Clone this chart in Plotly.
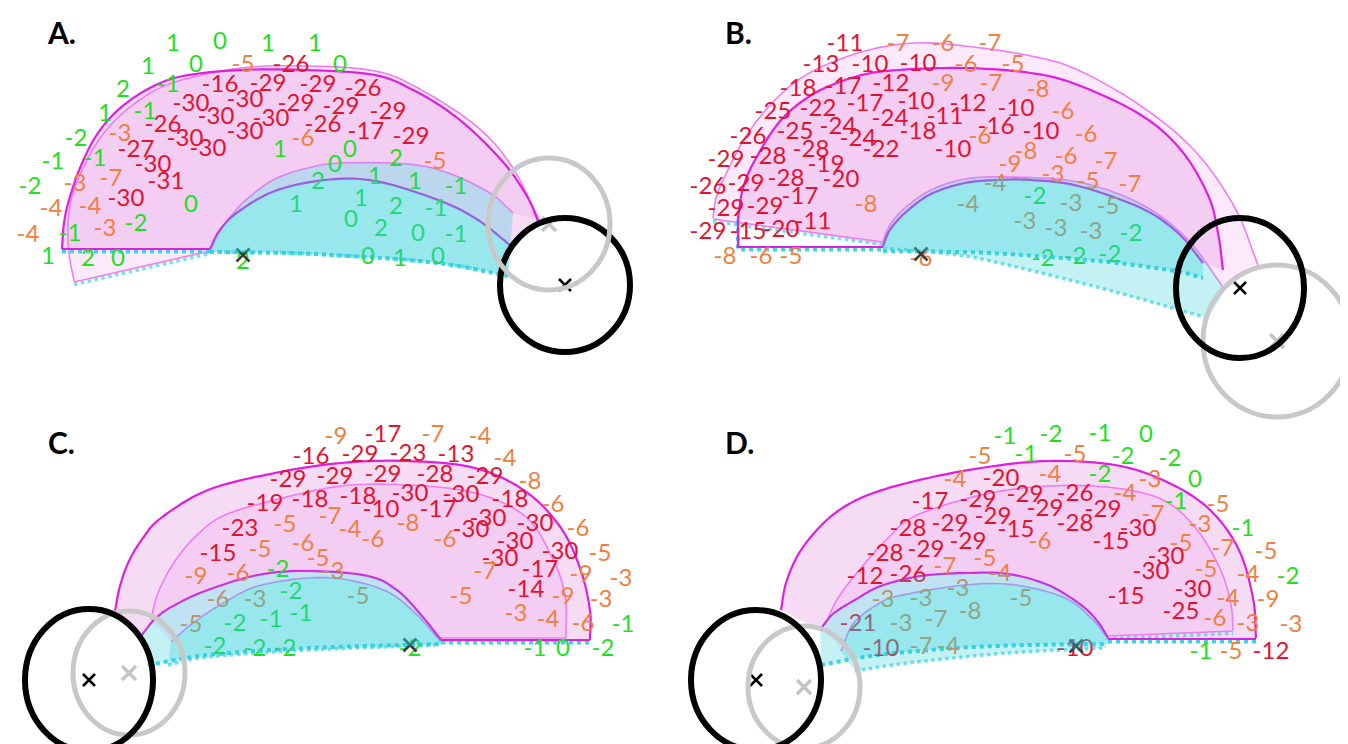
import numpy as np
import plotly.graph_objects as go

# ---------------- data: values printed on each map and where they sit ----------------
A_vals = [1, 0, 1, 1, 1, 0, 0, 2, -1, 1, -1, -2, -1, -1, -2, -1, -2, 0, 1, 0, 2, 0, 2, 1, 1, -1,
          1, 1, 2, -1, 0, 2, 0, -1, 0, 1, 0, 1, 2, 0, 2,
          -5, -3, -6, -5, -3, -7, -4, -4, -3, -4,
          -26, -16, -29, -29, -26, -30, -30, -29, -29, -29, -26, -30, -30, -30, -26, -17, -29,
          -30, -30, -27, -30, -31, -30]
A_x = [165, 212, 260, 307, 140, 188, 332, 115, 160, 97, 137, 68, 45, 87, 22, 62, 128, 183, 272, 342,
       388, 327, 310, 367, 407, 448, 288, 353, 388, 428, 343, 373, 410, 448, 360, 392, 430, 40, 80, 110, 235,
       235, 112, 295, 427, 67, 103, 43, 82, 97, 20,
       283, 212, 260, 310, 355, 183, 237, 288, 333, 380, 155, 208, 263, 237, 315, 358, 403,
       177, 200, 128, 145, 158, 118]
A_y = [37, 35, 37, 37, 60, 58, 58, 83, 78, 107, 105, 132, 155, 152, 180, 227, 217, 198, 143, 143,
       152, 158, 175, 170, 175, 180, 198, 192, 200, 202, 213, 222, 227, 228, 250, 252, 250, 250, 252, 252, 255,
       58, 127, 132, 155, 177, 172, 202, 200, 222, 228,
       58, 78, 77, 78, 82, 97, 93, 97, 100, 105, 118, 110, 112, 125, 118, 125, 130,
       132, 142, 143, 158, 175, 192]

B_vals = [-11, -13, -10, -10, -18, -17, -12, -25, -22, -17, -10, -12, -10, -26, -25, -24, -24, -11, -16, -10,
          -24, -18, -22, -10, -29, -28, -28, -19, -26, -29, -28, -20, -29, -29, -17, -29, -15, -20, -11,
          -7, -6, -7, -6, -5, -9, -7, -8, -6, -6, -6, -8, -6, -9, -7, -3, -5, -7, -4, -8, -4,
          -3, -3, -3, -5, -3, -8, -6, -5, -6,
          -2, -2, -2, -2, -2]
B_x = [837, 813, 862, 910, 790, 835, 883, 765, 810, 857, 908, 960, 1008, 740, 787, 830, 882, 937, 988, 1033,
       850, 910, 873, 945, 718, 760, 803, 818, 700, 738, 778, 833, 718, 757, 792, 700, 740, 773, 805,
       890, 935, 982, 958, 1005, 935, 983, 1030, 1055, 972, 1078, 1018, 1058, 1002, 1098, 1045, 1080, 1122, 987, 858, 960,
       1017, 1048, 1063, 1100, 1083, 717, 753, 783, 913,
       1027, 1123, 1035, 1067, 1102]
B_y = [37, 58, 58, 57, 82, 80, 77, 105, 102, 97, 95, 97, 102, 130, 125, 120, 112, 110, 120, 125,
       132, 125, 143, 143, 153, 150, 143, 158, 180, 177, 172, 173, 202, 200, 190, 225, 225, 223, 215,
       37, 37, 37, 58, 58, 77, 77, 83, 105, 130, 128, 145, 150, 158, 155, 168, 175, 178, 177, 198, 198,
       215, 222, 197, 200, 225, 250, 250, 250, 252,
       190, 227, 252, 250, 248]

C_vals = [-17, -16, -29, -23, -13, -29, -29, -29, -28, -29, -19, -18, -18, -30, -30, -18, -10, -17,
          -30, -30, -30, -30, -30, -30, -17, -14, -23, -15,
          -9, -7, -4, -4, -8, -6, -6, -5, -9, -3, -3, -6, -4, -3, -9, -5, -7, -6, -8, -6, -4, -7,
          -5, -6, -5, -5, -3, -6, -9, -5, -3, -6, -5,
          -2, -2, -1, -1, -2, -2, -2, -2, -2, -1, 0, -2, -1]
C_x = [375, 303, 352, 400, 448, 280, 327, 375, 427, 477, 257, 302, 350, 402, 453, 502, 373, 430,
       480, 527, 463, 507, 552, 492, 532, 518, 232, 210,
       328, 425, 472, 497, 522, 545, 570, 592, 573, 613, 593, 575, 540, 508, 555, 453, 477, 437, 400, 365, 342, 322,
       277, 295, 252, 310, 325, 230, 188, 350, 247, 210, 183,
       270, 283, 293, 263, 227, 207, 247, 277, 402, 527, 555, 595, 615]
C_y = [428, 450, 448, 447, 448, 473, 470, 468, 468, 470, 497, 493, 490, 487, 488, 493, 503, 503,
       512, 517, 523, 535, 545, 552, 563, 583, 522, 547,
       430, 428, 430, 452, 475, 498, 522, 547, 568, 572, 593, 617, 613, 607, 590, 590, 565, 533, 517, 533, 523, 510,
       518, 537, 543, 552, 565, 567, 570, 590, 593, 593, 618,
       563, 585, 607, 613, 617, 640, 642, 642, 642, 642, 642, 642, 618]

D_vals = [-1, -2, -1, 0, -1, -2, -2, -2, 0, -1, -1, -2, -1,
          -5, -5, -4, -4, -3, -4, -5, -7, -3, -6, -5, -7, -5, -5, -7, -4, -5, -4, -4, -9,
          -6, -3, -3, -5, -3, -3, -3, -5, -3, -7, -8, -7, -4,
          -20, -17, -29, -29, -26, -28, -29, -29, -29, -28, -29, -15, -30, -15, -28, -29, -29,
          -30, -30, -12, -26, -30, -15, -25, -21, -10, -10, -12]
D_x = [997, 1043, 1092, 1138, 1018, 1115, 1162, 1092, 1187, 1168, 1235, 1280, 1193,
       972, 1067, 947, 1042, 1142, 1117, 1210, 1145, 1192, 1032, 1173, 1215, 1258, 977, 937, 992, 1198, 1240, 1220, 1260,
       1207, 1240, 1283, 1223, 875, 913, 950, 1013, 893, 928, 962, 913, 940,
       993, 922, 970, 1017, 1067, 900, 942, 985, 1037, 1067, 1095, 1008, 1130, 1103, 877, 918, 960,
       1158, 1143, 857, 900, 1185, 1118, 1173, 850, 873, 1067, 1263]
D_y = [430, 428, 427, 428, 448, 450, 452, 468, 473, 495, 522, 570, 645,
       450, 448, 473, 468, 473, 487, 498, 508, 518, 535, 537, 542, 545, 552, 560, 567, 563, 568, 592, 593,
       612, 617, 618, 645, 593, 592, 582, 592, 617, 613, 605, 640, 640,
       472, 495, 493, 488, 487, 522, 517, 510, 502, 517, 503, 523, 522, 535, 547, 543, 535,
       550, 565, 570, 568, 583, 590, 605, 617, 642, 642, 645]

panel_names = ["A.", "B.", "C.", "D."]

# circles (centre / radii) and centre crosses
black_cx = [557, 1232, 81, 748]
black_cy = [277, 280, 672, 672]
black_rx = [65, 64, 64, 65]
black_ry = [67, 70, 71, 70]
gray_cx = [541, 1269, 121, 796]
gray_cy = [216, 333, 665, 679]
gray_rx = [61, 74, 56, 56]
gray_ry = [66, 76, 62, 61]
fix_x = [235, 913, 402, 1068]
fix_y = [247, 246, 637, 638]

# ---------------- geometry of the drawn hemifield shapes (pixel grid) ----------------
GEOM = {
    "A": dict(
        dark=dict(outer=[(54, 241), (56, 215), (61, 192), (72, 160), (88, 128), (110, 102), (140, 81), (175, 68),
                         (233, 62), (300, 62), (367, 67), (405, 82), (440, 103), (470, 128), (500, 160), (520, 190), (530, 213)],
                  inner=[(202, 241), (212, 222), (230, 204), (267, 183), (317, 172), (367, 173), (430, 192), (470, 212), (503, 238)],
                  base=[(202, 244), (280, 245), (340, 248), (400, 252), (450, 258), (500, 268)],
                  edge=[(54, 241), (202, 241)]),
        light=dict(outer=[(66, 273), (61, 245), (60, 215), (65, 185), (80, 150), (100, 120), (130, 93), (167, 74),
                          (233, 60), (300, 58), (367, 63), (410, 80), (467, 117), (503, 157), (532, 213)],
                   inner=[(202, 243), (210, 226), (223, 208), (240, 190), (267, 171), (300, 160), (333, 155), (400, 156),
                          (440, 165), (482, 185), (505, 205)],
                   base=[(202, 244), (280, 245), (340, 248), (400, 252), (450, 258), (500, 268)],
                   edge=[(66, 274), (202, 243)])),
    "B": dict(
        dark=dict(outer=[(730, 210), (735, 180), (747, 152), (773, 112), (807, 85), (850, 68), (890, 62), (957, 60),
                         (1023, 65), (1070, 77), (1133, 107), (1173, 142), (1200, 187), (1210, 225), (1215, 262)],
                  inner=[(875, 238), (882, 222), (897, 205), (923, 186), (957, 175), (990, 172), (1023, 172), (1070, 178),
                         (1133, 200), (1170, 225), (1195, 255)],
                  base=[(875, 243), (950, 244), (1000, 246), (1100, 254), (1167, 263), (1195, 270)],
                  edge=[(730, 210), (730, 239), (875, 239)]),
        light=dict(outer=[(705, 210), (708, 190), (717, 168), (740, 125), (773, 86), (807, 62), (857, 43), (907, 35),
                          (957, 38), (1023, 48), (1070, 62), (1133, 98), (1187, 143), (1227, 200), (1250, 257)],
                   inner=[(875, 233), (882, 217), (897, 200), (923, 182), (957, 171), (1000, 169), (1070, 174),
                          (1133, 196), (1180, 232), (1217, 282)],
                   base=[(875, 240), (950, 247), (1000, 257), (1100, 282), (1200, 310)],
                   edge=[(705, 211), (875, 234)])),
    "C": dict(
        dark=dict(outer=[(107, 603), (112, 578), (121, 553), (135, 530), (153, 510), (200, 482), (267, 465), (333, 455),
                         (400, 453), (467, 460), (517, 483), (553, 520), (573, 563), (582, 603), (582, 632)],
                  inner=[(133, 628), (148, 610), (167, 597), (200, 582), (250, 567), (300, 563), (360, 568), (390, 583),
                         (413, 607), (433, 632)],
                  base=[(140, 657), (200, 647), (300, 640), (433, 636)],
                  edge=[(433, 632), (582, 632)]),
        light=dict(outer=[(143, 612), (150, 585), (167, 553), (190, 526), (217, 507), (267, 492), (333, 478), (400, 477),
                          (467, 485), (517, 508), (543, 547), (557, 587), (558, 630)],
                   inner=[(163, 634), (185, 615), (217, 594), (250, 578), (300, 570), (340, 572), (380, 584), (407, 605),
                          (430, 630)],
                   base=[(160, 657), (200, 649), (300, 642), (430, 637)],
                   edge=[(430, 630), (558, 630)])),
    "D": dict(
        dark=dict(outer=[(773, 602), (778, 575), (790, 547), (808, 523), (830, 503), (860, 487), (907, 473), (973, 460),
                         (1040, 453), (1107, 457), (1157, 473), (1200, 500), (1230, 540), (1245, 590), (1248, 630)],
                  inner=[(812, 622), (825, 606), (847, 592), (873, 578), (913, 568), (960, 565), (1000, 566), (1040, 577),
                         (1073, 597), (1090, 614), (1100, 630)],
                  base=[(813, 657), (870, 647), (950, 640), (1020, 637), (1100, 636)],
                  edge=[(1100, 631), (1248, 631)]),
        light=dict(outer=[(817, 617), (830, 590), (853, 560), (880, 530), (907, 508), (973, 487), (1040, 478),
                          (1107, 480), (1157, 493), (1190, 523), (1213, 563), (1223, 597), (1225, 622)],
                   inner=[(833, 643), (845, 616), (867, 598), (890, 588), (957, 577), (1007, 577), (1057, 590),
                          (1085, 612), (1098, 628)],
                   base=[(847, 663), (900, 655), (1000, 645), (1098, 640)],
                   edge=[(1098, 628), (1225, 623)])),
}

PINK = {"dark": "rgba(228,150,226,0.34)", "light": "rgba(236,140,236,0.18)"}
LINE = {"dark": "#E01EE0", "light": "#F07CF0"}
LINEW = {"dark": 2.2, "light": 1.6}
CYAN = "rgba(40,205,215,0.28)"
DOT = "#3AD6E6"
RED, ORANGE, GREEN = "#E3132F", "#F0803F", "#1FDF1F"


def smooth(pts, n=10):
    P = np.array(pts, float)
    if len(P) < 3:
        return P
    Q = np.vstack([2 * P[0] - P[1], P, 2 * P[-1] - P[-2]])
    out = []
    for i in range(1, len(Q) - 2):
        p0, p1, p2, p3 = Q[i - 1], Q[i], Q[i + 1], Q[i + 2]
        for t in np.linspace(0, 1, n, endpoint=False):
            out.append(0.5 * (2 * p1 + (-p0 + p2) * t + (2 * p0 - 5 * p1 + 4 * p2 - p3) * t * t
                              + (-p0 + 3 * p1 - 3 * p2 + p3) * t ** 3))
    out.append(P[-1])
    return np.array(out)


def path(P, close=False):
    s = "M " + " L ".join(f"{x:.1f},{y:.1f}" for x, y in P)
    return s + (" Z" if close else "")


shapes = []
for key, g in GEOM.items():
    for part in ["light", "dark"]:
        c = g[part]
        o, i = smooth(c["outer"]), smooth(c["inner"])
        shapes.append(dict(type="path", path=path(np.vstack([o, i[::-1]]), True), fillcolor=PINK[part],
                           line=dict(width=0), layer="below", xref="x", yref="y"))
    for part in ["light", "dark"]:
        c = g[part]
        o, i = smooth(c["outer"]), smooth(c["inner"])
        e = np.array(c["edge"], float)
        b = smooth(c["base"])
        for P in (b, e + np.array([0, 2.5])):
            shapes.append(dict(type="path", path=path(P),
                               line=dict(color=DOT, width=4 if part == "dark" else 3.5, dash="dot"),
                               layer="below", xref="x", yref="y", opacity=1 if part == "dark" else 0.7))
        for P in (o, i, e):
            shapes.append(dict(type="path", path=path(P), line=dict(color=LINE[part], width=LINEW[part]),
                               layer="below", xref="x", yref="y"))
    # cyan disc regions drawn above the printed values
    for part in ["light", "dark"]:
        c = g[part]
        i, b = smooth(c["inner"]), smooth(c["base"])
        if np.linalg.norm(i[0] - b[0]) > np.linalg.norm(i[0] - b[-1]):
            b = b[::-1]
        shapes.append(dict(type="path", path=path(np.vstack([i, b[::-1]]), True), fillcolor=CYAN,
                           line=dict(width=0), layer="above", xref="x", yref="y"))

# circles
for k in range(4):
    blk = dict(type="circle", xref="x", yref="y", x0=black_cx[k] - black_rx[k], x1=black_cx[k] + black_rx[k],
               y0=black_cy[k] - black_ry[k], y1=black_cy[k] + black_ry[k], line=dict(color="black", width=6),
               fillcolor="rgba(0,0,0,0)", layer="above")
    gry = dict(type="circle", xref="x", yref="y", x0=gray_cx[k] - gray_rx[k], x1=gray_cx[k] + gray_rx[k],
               y0=gray_cy[k] - gray_ry[k], y1=gray_cy[k] + gray_ry[k], line=dict(color="#C8C8C8", width=5),
               fillcolor="rgba(0,0,0,0)", layer="above")
    shapes.extend([blk, gry] if k == 0 else [gry, blk])


def colour(v):
    if v <= -10:
        return RED
    if v <= -3:
        return ORANGE
    return GREEN


fig = go.Figure()
for vals, xs, ys in [(A_vals, A_x, A_y), (B_vals, B_x, B_y), (C_vals, C_x, C_y), (D_vals, D_x, D_y)]:
    assert len(vals) == len(xs) == len(ys)
    fig.add_trace(go.Scatter(x=xs, y=ys, mode="text", text=[str(v) for v in vals],
                             textposition="middle center",
                             textfont=dict(family="Lato", size=24, color=[colour(v) for v in vals]),
                             hoverinfo="skip", showlegend=False))

fig.add_trace(go.Scatter(x=fix_x, y=fix_y, mode="markers",
                         marker=dict(symbol="x-thin-open", size=13, color="#3a3a3a", line=dict(width=2.5, color="#3a3a3a")),
                         hoverinfo="skip", showlegend=False))
fig.add_trace(go.Scatter(x=black_cx, y=black_cy, mode="markers",
                         marker=dict(symbol="x-thin-open", size=12, color="black", line=dict(width=2.5, color="black")),
                         hoverinfo="skip", showlegend=False))
fig.add_trace(go.Scatter(x=gray_cx, y=gray_cy, mode="markers",
                         marker=dict(symbol="x-thin-open", size=14, color="#C4C4C4", line=dict(width=3.5, color="#C4C4C4")),
                         hoverinfo="skip", showlegend=False))

letter_pos = [(53, 24), (730, 24), (53, 434), (731, 434)]
annotations = [dict(x=px, y=py, xref="x", yref="y", text=f"<b>{t}</b>", showarrow=False,
                    font=dict(family="Lato", size=30, color="black"))
               for t, (px, py) in zip(panel_names, letter_pos)]

fig.update_layout(width=1348, height=744, margin=dict(l=0, r=0, t=0, b=0),
                  paper_bgcolor="white", plot_bgcolor="white", shapes=shapes, annotations=annotations,
                  xaxis=dict(range=[0, 1348], visible=False, fixedrange=True),
                  yaxis=dict(range=[744, 0], visible=False, fixedrange=True),
                  showlegend=False)
fig.write_html("out.html")
